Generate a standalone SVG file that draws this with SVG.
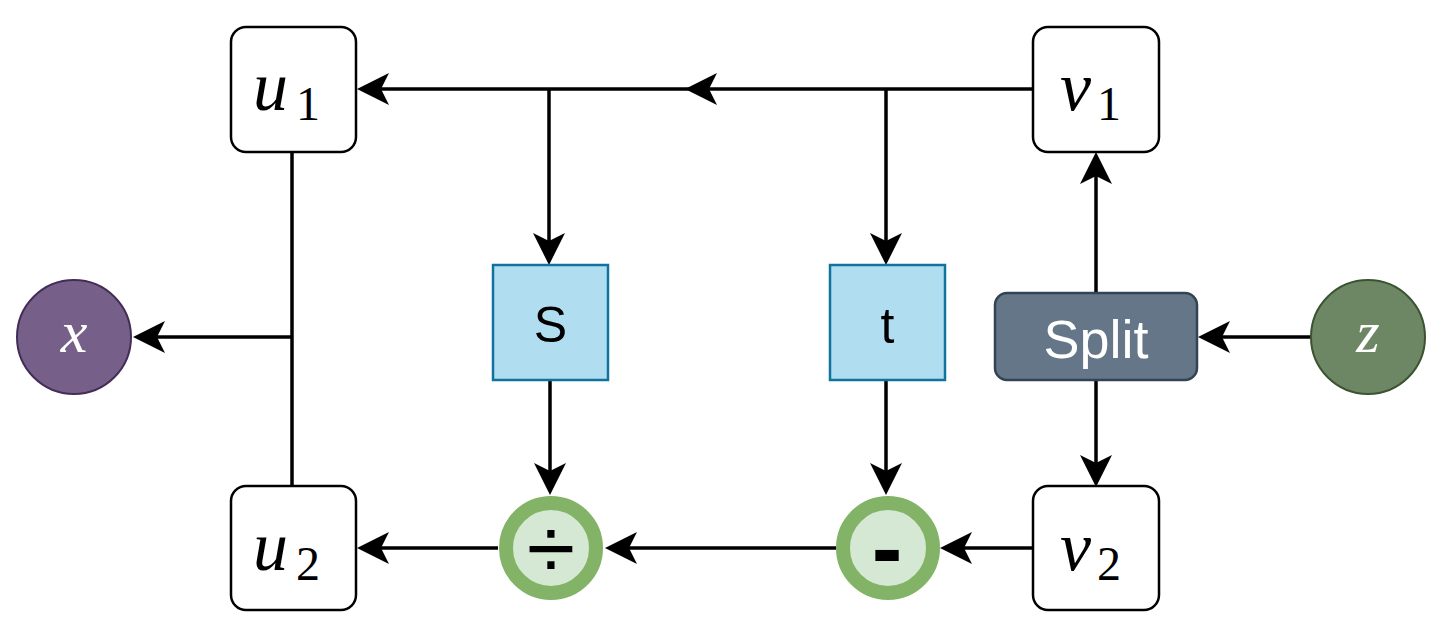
<svg xmlns="http://www.w3.org/2000/svg" width="1441" height="619" viewBox="0 0 1441 619">
<defs>
<marker id="arr" markerUnits="userSpaceOnUse" markerWidth="34" markerHeight="34" viewBox="0 0 34 34" refX="8" refY="17" orient="auto">
<path d="M32,17 L0,1 L8,17 L0,33 Z" fill="#000"/>
</marker>
<style>
.box{fill:#fff;stroke:#000;stroke-width:2.5}
.blue{fill:#b1ddf0;stroke:#10739e;stroke-width:2.5}
.op{fill:#d5e8d4;stroke:#82b366;stroke-width:14}
.ln{fill:none;stroke:#000;stroke-width:3.5}
.arrow{marker-end:url(#arr)}
.math{font-family:"Liberation Serif","DejaVu Serif",serif;font-style:italic;font-size:70px;fill:#000}
.sub{font-family:"Liberation Serif","DejaVu Serif",serif;font-style:normal;font-size:48px;fill:#000}
.lbl{font-family:"Liberation Sans",Arial,sans-serif;font-size:50px;fill:#000;text-anchor:middle}
.wm{font-family:"Liberation Serif","DejaVu Serif",serif;font-style:italic;font-size:60px;fill:#fff;text-anchor:middle}
</style>
</defs>
<g id="connectors">
<path class="ln" d="M1033,89 L709,89 L381,89" marker-mid="url(#arr)" marker-end="url(#arr)"/>
<path class="ln arrow" d="M549,89 L549,241"/>
<path class="ln arrow" d="M886,89 L886,241"/>
<path class="ln arrow" d="M550,380 L550,471"/>
<path class="ln arrow" d="M886,380 L886,471"/>
<path class="ln arrow" d="M1033,548 L964,548"/>
<path class="ln arrow" d="M836,548 L629,548"/>
<path class="ln arrow" d="M498,548 L381,548"/>
<path class="ln arrow" d="M1096,293 L1096,176"/>
<path class="ln arrow" d="M1096,380 L1096,463"/>
<path class="ln arrow" d="M1311,337 L1222,337"/>
<path class="ln" d="M292,152 L292,487"/>
<path class="ln arrow" d="M292,337 L157,337"/>
</g>
<g id="u1">
<rect class="box" x="231" y="27" width="125" height="125" rx="15"/>
<text class="math" x="253" y="110">u</text><text class="sub" x="296" y="120">1</text>
</g>
<g id="v1">
<rect class="box" x="1033" y="27" width="126" height="125" rx="15"/>
<text class="math" x="1060" y="110">v</text><text class="sub" x="1097" y="120">1</text>
</g>
<g id="u2">
<rect class="box" x="231" y="486" width="125" height="124" rx="15"/>
<text class="math" x="253" y="570">u</text><text class="sub" x="296" y="580">2</text>
</g>
<g id="v2">
<rect class="box" x="1033" y="486" width="126" height="124" rx="15"/>
<text class="math" x="1060" y="570">v</text><text class="sub" x="1097" y="580">2</text>
</g>
<g id="S">
<rect class="blue" x="493" y="265" width="115" height="115"/>
<text class="lbl" x="550.5" y="342">S</text>
</g>
<g id="t">
<rect class="blue" x="830" y="265" width="115" height="115"/>
<text class="lbl" x="887.5" y="343">t</text>
</g>
<g id="split">
<rect x="995" y="293" width="202" height="87" rx="12" fill="#647687" stroke="#314354" stroke-width="2.5"/>
<text class="lbl" x="1096" y="358" style="fill:#fff;font-size:54px">Split</text>
</g>
<g id="x">
<circle cx="74" cy="337" r="57" fill="#76608a" stroke="#432d57" stroke-width="2"/>
<text class="wm" x="74" y="352">x</text>
</g>
<g id="z">
<circle cx="1368" cy="337" r="57" fill="#6d8764" stroke="#3a5431" stroke-width="2"/>
<text class="wm" x="1368" y="352">z</text>
</g>
<g id="div">
<circle class="op" cx="551" cy="548" r="45"/>
<text class="lbl" x="551" y="579" style="font-size:88px">÷</text>
</g>
<g id="minus">
<circle class="op" cx="888" cy="548" r="45"/>
<text class="lbl" x="887" y="580" style="font-size:92px;font-weight:bold">-</text>
</g>
</svg>
